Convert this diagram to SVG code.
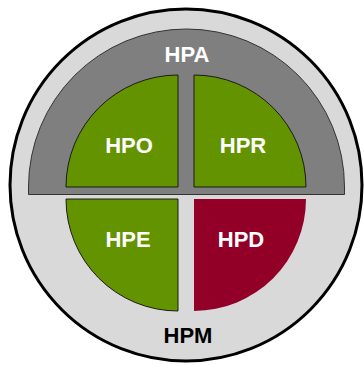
<svg xmlns="http://www.w3.org/2000/svg" width="364" height="365" viewBox="0 0 364 365">
<style>
.lbl{font-family:"Liberation Sans",Arial,sans-serif;font-weight:bold;font-size:22px;text-anchor:middle}
.w{fill:#ffffff}
.k{fill:#000000}
.g{fill:#639400;stroke:#1a1a1a;stroke-width:1}
</style>
<rect width="364" height="365" fill="#ffffff"/>
<g id="HPM">
<circle cx="186" cy="185" r="176" fill="#d9d9d9" stroke="#000" stroke-width="3"/>
<text class="lbl k" x="188" y="343">HPM</text>
</g>
<g id="HPA">
<path d="M28.5,194.5 L28.5,187 A158,158 0 0 1 344.5,187 L344.5,194.5 Z" fill="#7f7f7f" stroke="#333" stroke-width="1"/>
<text class="lbl w" x="187" y="62">HPA</text>
</g>
<g id="HPO">
<path class="g" d="M178,187 L66,187 A112,112 0 0 1 178,75 Z"/>
<text class="lbl w" x="129" y="153">HPO</text>
</g>
<g id="HPR">
<path class="g" d="M194,187 L194,75 A112,112 0 0 1 306,187 Z"/>
<text class="lbl w" x="243" y="153">HPR</text>
</g>
<g id="HPE">
<path class="g" d="M178,199 L178,311 A112,112 0 0 1 66,199 Z"/>
<text class="lbl w" x="128" y="247">HPE</text>
</g>
<g id="HPD">
<path d="M194,199 L306,199 A112,112 0 0 1 194,311 Z" fill="#920027"/>
<text class="lbl w" x="241" y="247">HPD</text>
</g>
<g id="connectors"></g>
</svg>
